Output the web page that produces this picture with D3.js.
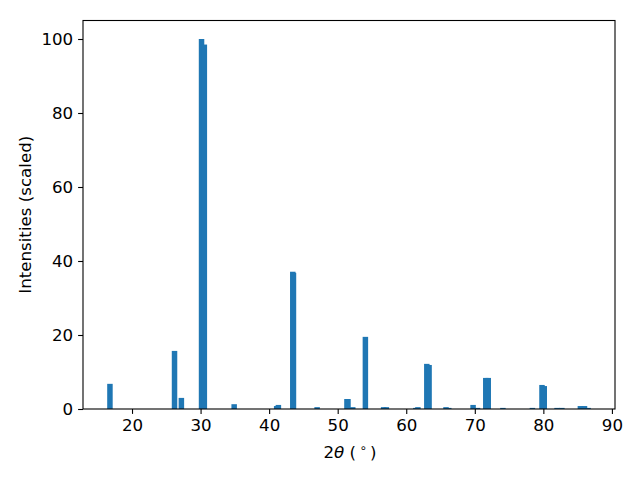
<!DOCTYPE html>
<html>
<head>
<meta charset="utf-8">
<script src="https://cdn.jsdelivr.net/npm/d3@7"></script>
<style>
  html, body { margin: 0; padding: 0; background: #fff; }
  svg { display: block; font-family: "DejaVu Sans", sans-serif; }
</style>
</head>
<body>
<svg id="chart" width="640" height="480"></svg>
<script>
const twoTheta = [16.78, 26.2, 27.2, 30.14, 30.55, 34.9, 41.1, 41.35, 43.45, 43.55, 47.0, 51.35, 51.5, 52.2, 54.04, 56.7, 57.1, 61.4, 61.7, 63.0, 63.33, 65.8, 66.2, 69.75, 70.4, 71.6, 71.96, 74.1, 78.4, 79.8, 80.13, 82.0, 82.7, 85.4, 86.0, 86.53];
const intensities = [6.8, 15.7, 3.0, 100, 98.5, 1.3, 0.8, 1.1, 37.1, 36.8, 0.5, 2.7, 2.7, 0.5, 19.5, 0.5, 0.5, 0.3, 0.5, 12.2, 11.9, 0.5, 0.3, 1.1, 0.3, 8.4, 8.4, 0.3, 0.3, 6.5, 6.2, 0.3, 0.3, 0.8, 0.8, 0.3];
const xTicks = [20, 30, 40, 50, 60, 70, 80, 90];
const yTicks = [0, 20, 40, 60, 80, 100];
const barWidth = 0.8;

(function () {
const svg = d3.select("#chart");
const mLeft = 83, mRight = 615, mTop = 20.5, mBottom = 409;
const fs = 16.67;
const x = d3.scaleLinear().domain([12.85, 90.45]).range([mLeft, mRight]);
const y = d3.scaleLinear().domain([0, 105]).range([mBottom, mTop]);

svg.append("rect").attr("width", 640).attr("height", 480).attr("fill", "#fff");

const data = twoTheta.map((t, i) => ({t, v: intensities[i]}));
svg.append("g").selectAll("rect").data(data).enter().append("rect")
  .attr("x", d => x(d.t - barWidth / 2))
  .attr("width", d => x(d.t + barWidth / 2) - x(d.t - barWidth / 2))
  .attr("y", d => y(d.v))
  .attr("height", d => y(0) - y(d.v))
  .attr("fill", "#1f77b4");

const xAxis = svg.append("g").attr("transform", `translate(0,${mBottom})`)
  .call(d3.axisBottom(x).tickValues(xTicks).tickSize(4.9).tickPadding(4.9).tickFormat(d3.format("d")));
const yAxis = svg.append("g").attr("transform", `translate(${mLeft},0)`)
  .call(d3.axisLeft(y).tickValues(yTicks).tickSize(4.9).tickPadding(4.9).tickFormat(d3.format("d")));
[xAxis, yAxis].forEach(a => {
  a.select(".domain").remove();
  a.selectAll("line").attr("stroke", "#000").attr("stroke-width", 1.1);
  a.selectAll("text").attr("font-family", "DejaVu Sans").attr("font-size", fs).attr("fill", "#000");
});

svg.append("rect").attr("x", mLeft).attr("y", mTop).attr("width", mRight - mLeft).attr("height", mBottom - mTop)
  .attr("fill", "none").attr("stroke", "#000").attr("stroke-width", 1.1);

const xl = svg.append("text").attr("x", (mLeft + mRight) / 2 + 1).attr("y", 458)
  .attr("text-anchor", "middle").attr("font-size", fs).attr("fill", "#000");
xl.append("tspan").text("2");
xl.append("tspan").attr("font-style", "italic").text("θ");
xl.append("tspan").text(" (\u2009");
xl.append("tspan").attr("font-size", 11.7).attr("dy", -6).text("∘");
xl.append("tspan").attr("dy", 6).text("\u2009)");

svg.append("text").attr("transform", `translate(31,${(mTop + mBottom) / 2}) rotate(-90)`)
  .attr("text-anchor", "middle").attr("font-size", fs).attr("fill", "#000")
  .text("Intensities (scaled)");
})();
</script>
</body>
</html>
